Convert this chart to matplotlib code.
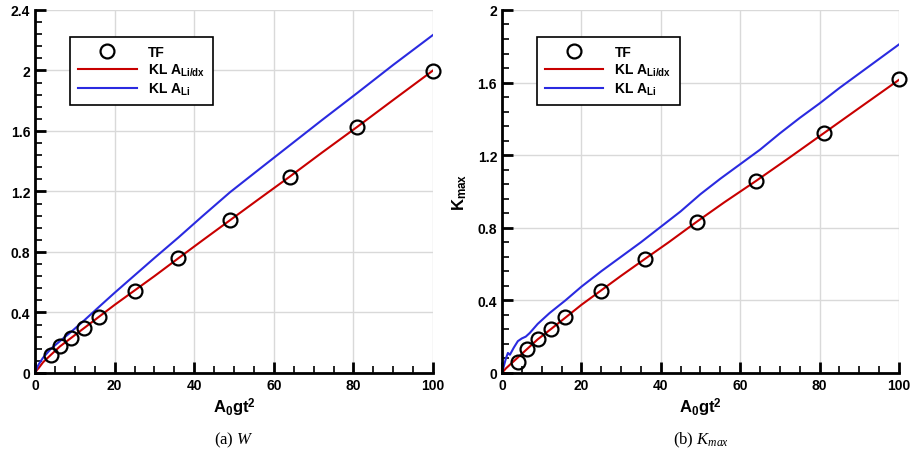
import numpy as np
import matplotlib.pyplot as plt
from matplotlib.ticker import MultipleLocator

plt.rcParams['font.family'] = 'Liberation Sans'
plt.rcParams['font.weight'] = 'bold'
plt.rcParams['mathtext.fontset'] = 'custom'
plt.rcParams['mathtext.rm'] = 'Liberation Sans:bold'
plt.rcParams['mathtext.bf'] = 'Liberation Sans:bold'
plt.rcParams['mathtext.it'] = 'Liberation Serif:style=italic:weight=normal'

# TF data points (x = A0 g t^2)
tf_x = [4, 6.25, 9, 12.25, 16, 25, 36, 49, 64, 81, 100]
tf_w = [0.121, 0.176, 0.231, 0.295, 0.372, 0.544, 0.758, 1.011, 1.298, 1.629, 1.997]
tf_k = [0.062, 0.132, 0.187, 0.242, 0.307, 0.453, 0.628, 0.834, 1.058, 1.322, 1.618]

# KL curves, panel (a) W
w_x = [0, 0.5, 1, 2, 4, 6.25, 9, 12.25, 16, 20, 25, 30, 36, 42, 49, 56, 64, 72, 81, 90, 100]
w_red = [0, 0.02, 0.035, 0.07, 0.12, 0.175, 0.23, 0.295, 0.37, 0.45, 0.545, 0.64,
         0.758, 0.875, 1.01, 1.145, 1.298, 1.455, 1.628, 1.805, 2.0]
w_blue = [0, 0.035, 0.06, 0.1, 0.16, 0.21, 0.27, 0.345, 0.435, 0.53, 0.645, 0.76,
          0.895, 1.035, 1.195, 1.34, 1.505, 1.67, 1.852, 2.037, 2.235]

# KL curves, panel (b) Kmax
k_x_red = [0, 1, 2, 4, 6.25, 9, 12.25, 16, 20, 25, 30, 36, 42, 49, 56, 64, 72, 81, 90, 100]
k_red = [0, 0.025, 0.045, 0.085, 0.13, 0.185, 0.24, 0.305, 0.375, 0.455, 0.535, 0.628,
         0.72, 0.832, 0.94, 1.058, 1.18, 1.32, 1.46, 1.615]
k_x_blue = [0, 0.5, 1, 1.5, 2, 2.5, 3, 4, 5, 6, 7, 9, 12, 16, 20, 25, 30, 35, 40, 45,
            50, 55, 60, 65, 70, 75, 80, 85, 90, 95, 100]
k_blue = [0, 0.04, 0.08, 0.11, 0.10, 0.12, 0.14, 0.175, 0.19, 0.20, 0.22, 0.27, 0.33,
          0.40, 0.475, 0.56, 0.64, 0.72, 0.805, 0.89, 0.985, 1.07, 1.15, 1.23, 1.32,
          1.405, 1.485, 1.57, 1.65, 1.73, 1.81]

red = '#c80000'
blue = '#2a2ae0'

fig = plt.figure(figsize=(9.1, 4.56), dpi=100)
ax1 = fig.add_axes([0.0385, 0.18, 0.4374, 0.796])
ax2 = fig.add_axes([0.5516, 0.18, 0.4363, 0.796])


def style(ax, ymax, ystep):
    ax.set_xlim(0, 100)
    ax.set_ylim(0, ymax)
    ax.xaxis.set_major_locator(MultipleLocator(20))
    ax.xaxis.set_minor_locator(MultipleLocator(5))
    ax.yaxis.set_major_locator(MultipleLocator(ystep))
    ax.yaxis.set_minor_locator(MultipleLocator(ystep / 5))
    ax.spines['top'].set_visible(False)
    ax.spines['right'].set_visible(False)
    ax.spines['left'].set_linewidth(2)
    ax.spines['bottom'].set_linewidth(2)
    ax.tick_params(which='major', direction='in', length=8, width=2, labelsize=10)
    ax.tick_params(which='minor', direction='in', length=5, width=1.2)
    ax.grid(True, which='major', color='#d9d9d9', linewidth=1)
    ax.set_axisbelow(True)
    ax.set_xlabel(r'A$_\mathrm{0}$gt$^\mathrm{2}$', fontsize=12, fontweight='bold',
                  labelpad=3)
    for lab in ax.get_xticklabels() + ax.get_yticklabels():
        lab.set_fontweight('bold')
    ax.yaxis.set_major_formatter(plt.FuncFormatter(lambda v, p: f'{v:g}'))


for ax, tf, cx_r, cr, cx_b, cb, ymax, step in [
        (ax1, tf_w, w_x, w_red, w_x, w_blue, 2.4, 0.4),
        (ax2, tf_k, k_x_red, k_red, k_x_blue, k_blue, 2.0, 0.4)]:
    ax.plot(tf_x, tf, 'o', mfc='none', mec='black', ms=10, mew=1.6, label='TF',
            zorder=4, clip_on=False)
    ax.plot(cx_r, cr, color=red, lw=1.5, label=r'KL A$_\mathrm{Li/dx}$')
    ax.plot(cx_b, cb, color=blue, lw=1.5, label=r'KL A$_\mathrm{Li}$')
    style(ax, ymax, step)
    leg = ax.legend(loc='upper left', bbox_to_anchor=(0.07, 0.945), fontsize=10,
                    fancybox=False, edgecolor='black', framealpha=1,
                    handlelength=4.2, borderpad=0.6, labelspacing=0.2)
    leg.get_frame().set_linewidth(1.2)

ax2.set_ylabel(r'K$_\mathrm{max}$', fontsize=12, fontweight='bold', labelpad=6)

fig.text(0.257, 0.025, r'(a) $W$', fontsize=12, family='Liberation Serif',
         fontweight='normal', ha='center')
fig.text(0.77, 0.025, r'(b) $K_{max}$', fontsize=12, family='Liberation Serif',
         fontweight='normal', ha='center')

fig.savefig('out.png', dpi=100)
